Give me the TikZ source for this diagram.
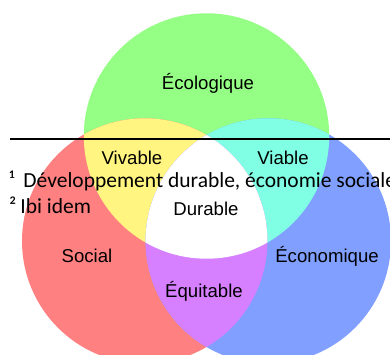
\documentclass[tikz,border=0pt]{standalone}
\usepackage{fontspec}
\setmainfont{Liberation Sans}
\newfontfamily\fnfont{Carlito}
\definecolor{cgreen}{RGB}{149,255,133}
\definecolor{cred}{RGB}{255,128,128}
\definecolor{cblue}{RGB}{128,159,255}
\definecolor{cyellow}{RGB}{255,245,128}
\definecolor{ccyan}{RGB}{128,255,228}
\definecolor{cmag}{RGB}{214,128,255}
\begin{document}
\begin{tikzpicture}[x=1pt,y=-1pt,
  lbl/.style={font=\fontsize{18.6}{21}\selectfont, anchor=base, inner sep=0pt},
  fn/.style={font=\fnfont\fontsize{21.5}{25}\selectfont, anchor=base west, inner sep=0pt},
  rule/.style={line width=2pt, black}]
\useasboundingbox (0,0) rectangle (390,355);
\clip (0,0) rectangle (390,355);
\coordinate (G) at (206.5,136);
\coordinate (R) at (144.7,241);
\coordinate (B) at (268.3,241);
\def\rad{122.7}
\fill[cgreen] (G) circle[radius=\rad];
\fill[cred] (R) circle[radius=\rad];
\fill[cblue] (B) circle[radius=\rad];
\begin{scope}
  \clip (G) circle[radius=\rad];
  \fill[cyellow] (R) circle[radius=\rad];
  \fill[ccyan] (B) circle[radius=\rad];
\end{scope}
\begin{scope}
  \clip (R) circle[radius=\rad];
  \fill[cmag] (B) circle[radius=\rad];
  \clip (B) circle[radius=\rad];
  \fill[white] (G) circle[radius=\rad];
\end{scope}
\node[lbl] (eco) at (208,90) {Écologique};
\node[lbl] (viv) at (132,165) {Vivable};
\node[lbl] (via) at (283,165) {Viable};
\node[lbl] (dur) at (206,215) {Durable};
\node[lbl] (soc) at (87,262) {Social};
\node[lbl] (econ) at (327,262) {Économique};
\node[lbl] (equ) at (204,297) {Équitable};
\coordinate (l1) at (10,139);
\coordinate (l2) at (391,139);
\draw[rule] (l1) -- (l2);
\node[fn] (f1) at (9,187) {¹\hspace{9pt}Développement durable, économie sociale};
\node[fn] (f2) at (9,213) {²\hspace{4pt}Ibi idem};
\end{tikzpicture}
\end{document}
